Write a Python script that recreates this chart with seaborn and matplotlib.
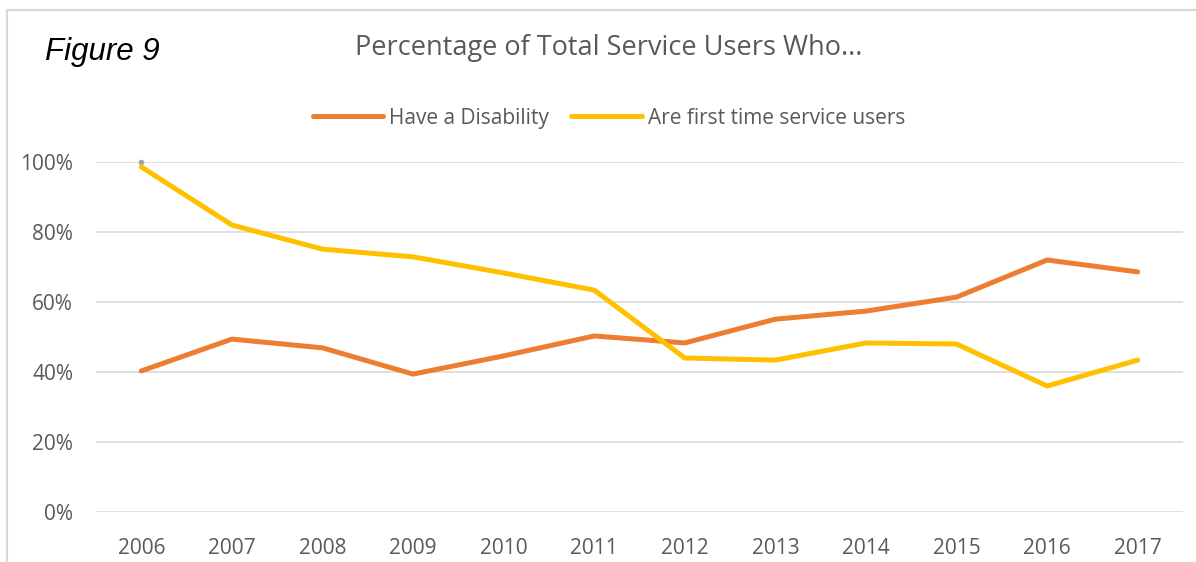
import pandas as pd
import seaborn as sns
import matplotlib.pyplot as plt
from matplotlib.lines import Line2D

sns.set_theme(style="white")
plt.rcParams['font.family'] = ['Open Sans', 'DejaVu Sans']

# Data
years = ['2006', '2007', '2008', '2009', '2010', '2011',
         '2012', '2013', '2014', '2015', '2016', '2017']
disability = [0.403, 0.494, 0.469, 0.394, 0.446, 0.503,
              0.483, 0.551, 0.574, 0.614, 0.720, 0.686]
first_time = [0.986, 0.820, 0.751, 0.729, 0.683, 0.634,
              0.440, 0.434, 0.483, 0.480, 0.360, 0.434]
series_names = ['Have a Disability', 'Are first time service users']
colors = ['#ED7D31', '#FFC000']

df = pd.DataFrame({
    'Year': years * 2,
    'Value': disability + first_time,
    'Series': [series_names[0]] * len(years) + [series_names[1]] * len(years),
})

fig = plt.figure(figsize=(11.96, 5.62), dpi=100)
ax = fig.add_axes([96 / 1196, 1 - 512 / 562, (1183 - 96) / 1196, 350 / 562])

sns.lineplot(data=df, x='Year', y='Value', hue='Series', palette=colors,
             linewidth=3.6, ax=ax, legend=False, sort=False)
for ln in ax.lines:
    ln.set_clip_on(False)
    ln.set_solid_capstyle('round')
    ln.set_solid_joinstyle('round')

# small grey marker at the top of the first category
ax.plot([years[0]], [1.0], marker='o', ms=3, color='#A5A5A5', clip_on=False, zorder=1)

ax.set_xlim(-0.5, len(years) - 0.5)
ax.set_ylim(0, 1)
ax.set_yticks([0, 0.2, 0.4, 0.6, 0.8, 1.0])
ax.set_yticklabels(['0%', '20%', '40%', '60%', '80%', '100%'])
ax.grid(axis='y', color='#D9D9D9', linewidth=1.2)
ax.set_axisbelow(True)
for s in ax.spines.values():
    s.set_visible(False)
ax.tick_params(axis='both', length=0, labelsize=15, colors='#595959')
ax.tick_params(axis='y', pad=16.5)
ax.tick_params(axis='x', pad=19)
ax.set_xlabel('')
ax.set_ylabel('')

fig.text(0.509, 0.915, 'Percentage of Total Service Users Who...', ha='center', va='center',
         fontsize=19.5, color='#595959')
fig.text(0.038, 0.908, 'Figure 9', ha='left', va='center', fontsize=22.5,
         style='italic', family=['Liberation Sans', 'DejaVu Sans'], color='black')

handles = [Line2D([], [], color=c, linewidth=3.6, solid_capstyle='round') for c in colors]
fig.legend(handles, series_names, loc='center', bbox_to_anchor=(0.509, 0.79), ncol=2,
           frameon=False, fontsize=15, labelcolor='#595959', handlelength=3.4,
           handletextpad=0.25, columnspacing=1.1)

# chart border (left and top visible)
fig.add_artist(Line2D([7 / 1196, 7 / 1196], [0, 1 - 10 / 562], color='#D9D9D9', linewidth=1.5))
fig.add_artist(Line2D([7 / 1196, 1], [1 - 10 / 562, 1 - 10 / 562], color='#D9D9D9', linewidth=1.5))

fig.savefig('out.png', dpi=100)
